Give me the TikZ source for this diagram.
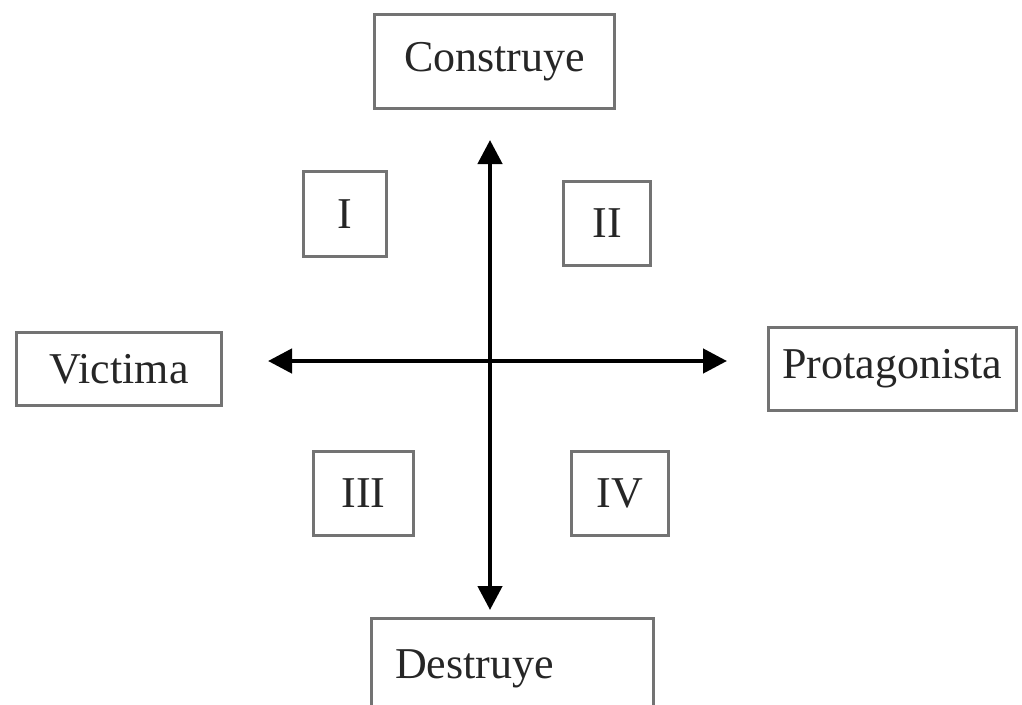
\documentclass[tikz,border=0pt]{standalone}
\usepackage{fontspec}
\setmainfont{Liberation Serif}
\usetikzlibrary{arrows.meta}
\begin{document}
\begin{tikzpicture}[x=1pt,y=-1pt,
  box/.style={draw=black!55, line width=3pt, inner sep=0pt, font=\fontsize{44}{50}\selectfont, text=black!85},
  txt/.style={inner sep=0pt, font=\fontsize{44}{50}\selectfont, text=black!85},
  axis/.style={line width=4.5pt, {Triangle[length=24pt,width=24pt]}-{Triangle[length=24pt,width=24pt]}}]
\useasboundingbox (0,0) rectangle (1022,704);
\clip (0,0) rectangle (1022,704);
\node[box, minimum width=240pt, minimum height=94pt] (construye) at (494.5,61.5) {Construye};
\node[box, minimum width=83pt, minimum height=85pt] (q1) at (345,214) {I};
\node[box, minimum width=87pt, minimum height=84pt] (q2) at (607,223.5) {II};
\node[box, minimum width=205pt, minimum height=73pt] (victima) at (119,369) {Victima};
\node[box, minimum width=248pt, minimum height=83pt] (protagonista) at (892.5,369) {Protagonista};
\node[box, minimum width=100pt, minimum height=84pt] (q3) at (363.5,493.5) {III};
\node[box, minimum width=97pt, minimum height=84pt] (q4) at (620,493.5) {IV};
\node[box, minimum width=282pt, minimum height=142pt] (destruye) at (512.5,689) {};
\node[txt, anchor=base west] (destruyetxt) at (395,678) {Destruye};
\coordinate (top) at (490,140);
\coordinate (bot) at (490,610);
\coordinate (left) at (268,361);
\coordinate (right) at (727,361);
\draw[axis] (bot) -- (top);
\draw[axis] (left) -- (right);
\end{tikzpicture}
\end{document}
